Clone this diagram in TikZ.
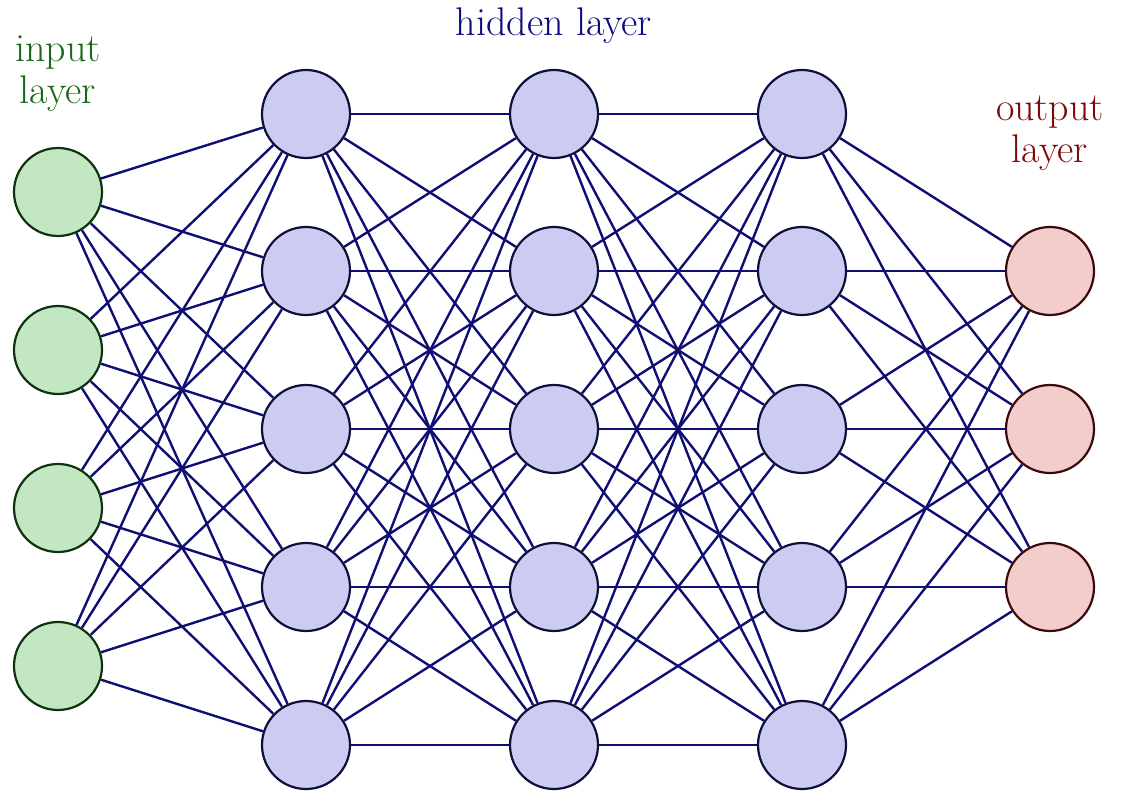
\documentclass[tikz,border=0pt]{standalone}
\definecolor{edgec}{RGB}{15,15,115}
\definecolor{inF}{RGB}{195,230,195}\definecolor{inD}{RGB}{15,50,15}
\definecolor{hidF}{RGB}{204,204,243}\definecolor{hidD}{RGB}{15,15,60}
\definecolor{outF}{RGB}{243,204,204}\definecolor{outD}{RGB}{60,10,10}
\definecolor{inT}{RGB}{25,105,25}\definecolor{hidT}{RGB}{10,10,130}\definecolor{outT}{RGB}{125,10,10}
\tikzset{neuron/.style={circle,minimum size=88pt,inner sep=0pt,line width=2.2pt},
 inn/.style={neuron,fill=inF,draw=inD},
 hid/.style={neuron,fill=hidF,draw=hidD},
 outn/.style={neuron,fill=outF,draw=outD},
 conn/.style={draw=edgec,line width=2.4pt},
 lbl/.style={font=\fontsize{40}{42}\selectfont,align=center}}
\begin{document}
\begin{tikzpicture}[x=1pt,y=-1pt]
\useasboundingbox (0,0) rectangle (1134,808);
\foreach \i/\y in {1/192,2/350,3/508,4/666} \node[inn] (I\i) at (58,\y) {};
\foreach \l/\x in {1/306,2/554,3/802}
  \foreach \i/\y in {1/114,2/271,3/429,4/587,5/745} \node[hid] (H\l\i) at (\x,\y) {};
\foreach \i/\y in {1/271,2/429,3/587} \node[outn] (O\i) at (1050,\y) {};
\foreach \a in {1,...,4} \foreach \b in {1,...,5} \draw[conn] (I\a) -- (H1\b);
\foreach \a in {1,...,5} \foreach \b in {1,...,5} {\draw[conn] (H1\a) -- (H2\b); \draw[conn] (H2\a) -- (H3\b);}
\foreach \a in {1,...,5} \foreach \b in {1,...,3} \draw[conn] (H3\a) -- (O\b);
\node[lbl,text=inT] (tin) at (58,74) {input\\layer};
\node[lbl,text=hidT] (thid) at (554,26) {hidden layer};
\node[lbl,text=outT] (tout) at (1050,133) {output\\layer};
\end{tikzpicture}
\end{document}
